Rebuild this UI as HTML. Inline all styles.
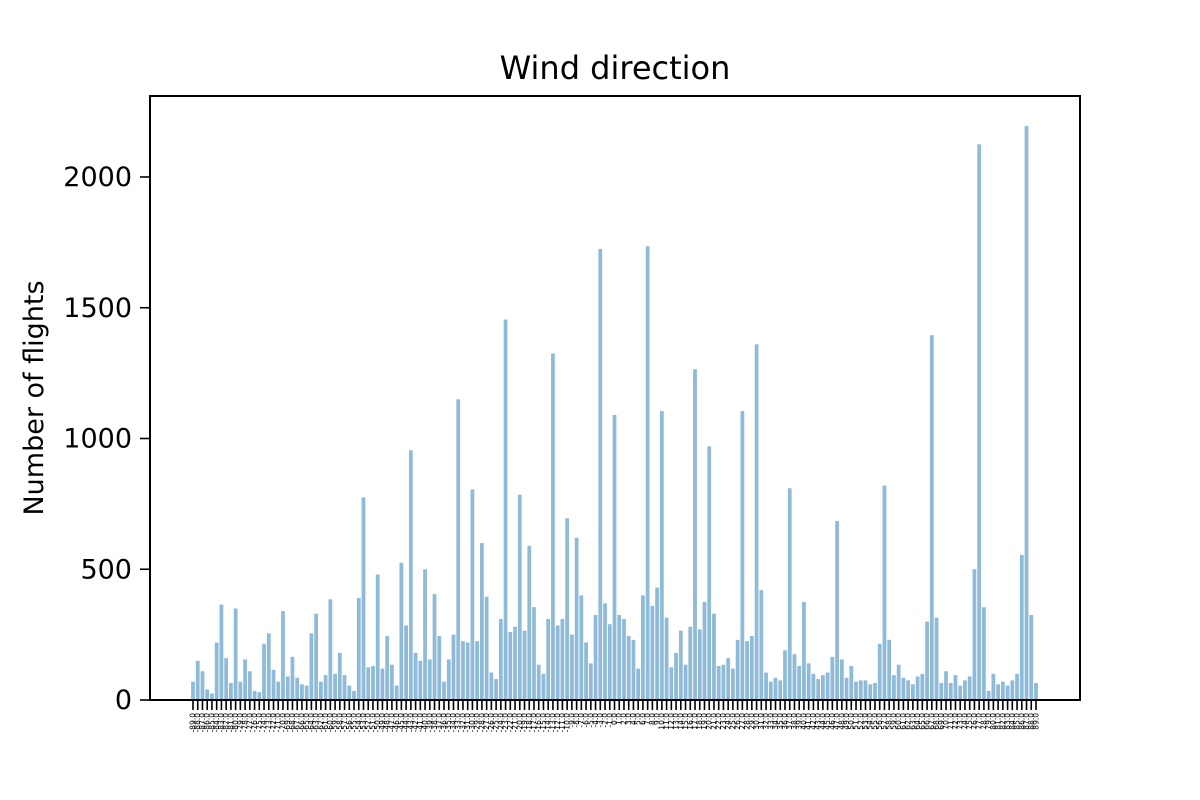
<!DOCTYPE html>
<html><head><meta charset="utf-8"><style>
html,body{margin:0;padding:0;background:#fff;}
svg{display:block;font-family:"DejaVu Sans","Liberation Sans",sans-serif;}
</style></head><body>
<svg id="chart" width="1200" height="800" viewBox="0 0 1200 800">
<rect x="0" y="0" width="1200" height="800" fill="#fff"/>
<text x="615" y="79" font-size="32" text-anchor="middle">Wind direction</text>
<text transform="translate(43,398) rotate(-90)" font-size="27" text-anchor="middle">Number of flights</text>
<g id="bars"></g>
<g id="yaxis"></g>
<g id="xaxis"></g>
<rect x="150" y="96" width="930" height="604" fill="none" stroke="#000" stroke-width="2"/>
</svg>
<script>
const values = [70,150,110,40,25,220,365,160,65,350,
70,155,110,35,30,215,255,115,70,340,
90,165,85,60,55,255,330,70,95,385,
100,180,95,55,35,390,775,125,130,480,
120,245,135,55,525,285,955,180,150,500,
155,405,245,70,155,250,1150,225,220,805,
225,600,395,105,80,310,1455,260,280,785,
265,590,355,135,100,310,1325,285,310,695,
250,620,400,220,140,325,1725,370,290,1090,
325,310,245,230,120,400,1735,360,430,1105,
315,125,180,265,135,280,1265,270,375,970,
330,130,135,160,120,230,1105,225,245,1360,
420,105,70,85,75,190,810,175,130,375,
140,100,80,95,105,165,685,155,85,130,
70,75,75,60,65,215,820,230,95,135,
85,75,60,90,100,300,1395,315,65,110,
65,95,55,75,90,500,2125,355,35,100,
60,70,55,75,100,555,2195,325,65];
const categories = [];
for (let d = -89; d <= 89; d++) categories.push(d.toFixed(1));
const yTicks = [0,500,1000,1500,2000];

const NS = "http://www.w3.org/2000/svg";
const x0 = 193, x1 = 1036;
const pitch = (x1 - x0) / (categories.length - 1);
function xScale(i){ return x0 + i * pitch; }
function yScale(v){ return 700 - v * (523 / 2000); }
const bars = document.getElementById('bars');
const xaxis = document.getElementById('xaxis');
const yaxis = document.getElementById('yaxis');
const bw = pitch * 0.8;
values.forEach((v, i) => {
  const r = document.createElementNS(NS, 'rect');
  
  
  r.setAttribute('x', xScale(i) - bw / 2);
  r.setAttribute('y', yScale(v));
  r.setAttribute('width', bw);
  r.setAttribute('height', 700 - yScale(v));
  r.setAttribute('fill', '#8fbbd9');
  bars.appendChild(r);
});
categories.forEach((c, i) => {
  const x = xScale(i);
  const t = document.createElementNS(NS, 'line');
  
  
  t.setAttribute('x1', x); t.setAttribute('x2', x);
  t.setAttribute('y1', 700); t.setAttribute('y2', 710);
  t.setAttribute('stroke', '#000'); t.setAttribute('stroke-width', '1.6');
  xaxis.appendChild(t);
  const l = document.createElementNS(NS, 'text');
  
  
  l.setAttribute('transform', 'translate(' + (x + 2.5) + ',713) rotate(-90)');
  l.setAttribute('font-size', '7.5');
  l.setAttribute('text-anchor', 'end');
  l.textContent = c;
  xaxis.appendChild(l);
});
yTicks.forEach(v => {
  const y = yScale(v);
  const t = document.createElementNS(NS, 'line');
  
  
  t.setAttribute('x1', 140); t.setAttribute('x2', 150);
  t.setAttribute('y1', y); t.setAttribute('y2', y);
  t.setAttribute('stroke', '#000'); t.setAttribute('stroke-width', '1.6');
  yaxis.appendChild(t);
  const l = document.createElementNS(NS, 'text');
  
  
  l.setAttribute('x', 132); l.setAttribute('y', y + 9);
  l.setAttribute('font-size', '27');
  l.setAttribute('text-anchor', 'end');
  l.textContent = v;
  yaxis.appendChild(l);
});
</script>
</body></html>
